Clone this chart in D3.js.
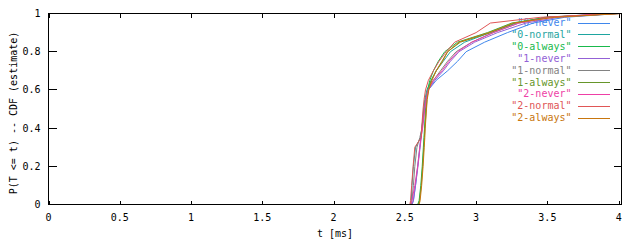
<!DOCTYPE html>
<html><head><meta charset="utf-8">
<script src="https://cdn.jsdelivr.net/npm/d3@7"></script>
<style>
html,body{margin:0;padding:0;background:#fff;}
svg{display:block;}
text{font-family:"DejaVu Sans Mono","Liberation Mono",monospace;font-size:10px;}
</style></head><body>
<script>
// Series names (legend labels) and colours
const seriesNames = ["0-never","0-normal","0-always","1-never","1-normal","1-always","2-never","2-normal","2-always"];
const seriesColors = ["#3f87ec","#1ea5a0","#19b94c","#9361d6","#828282","#66962a","#ee3fa6","#e05656","#c8760e"];
const probLevels = [0, 0.02, 0.1, 0.2, 0.3, 0.35, 0.4, 0.5, 0.55, 0.6, 0.65, 0.7, 0.75, 0.8, 0.85, 0.9, 0.95, 0.98, 1];
const t0never   = [2.55, 2.56, 2.575, 2.59, 2.605, 2.612, 2.62, 2.635, 2.645, 2.665, 2.72, 2.80, 2.87, 2.93, 3.06, 3.22, 3.40, 3.62, 4.00];
const t0normal  = [2.54, 2.545, 2.55, 2.56, 2.575, 2.61, 2.62, 2.632, 2.64, 2.655, 2.685, 2.72, 2.77, 2.82, 2.92, 3.10, 3.28, 3.48, 3.95];
const t0always  = [2.59, 2.60, 2.612, 2.622, 2.63, 2.634, 2.638, 2.645, 2.65, 2.66, 2.675, 2.70, 2.735, 2.78, 2.87, 3.08, 3.25, 3.50, 4.00];
const t1never   = [2.55, 2.56, 2.575, 2.592, 2.607, 2.615, 2.622, 2.638, 2.648, 2.665, 2.71, 2.77, 2.82, 2.88, 2.99, 3.15, 3.35, 3.58, 3.98];
const t1normal  = [2.545, 2.55, 2.56, 2.57, 2.585, 2.605, 2.62, 2.635, 2.645, 2.66, 2.70, 2.75, 2.80, 2.86, 2.97, 3.12, 3.30, 3.52, 4.00];
const t1always  = [2.595, 2.603, 2.615, 2.625, 2.633, 2.637, 2.641, 2.65, 2.655, 2.665, 2.685, 2.72, 2.76, 2.80, 2.89, 3.10, 3.27, 3.50, 3.98];
const t2never   = [2.54, 2.55, 2.57, 2.59, 2.605, 2.613, 2.625, 2.64, 2.65, 2.665, 2.70, 2.76, 2.81, 2.87, 2.97, 3.12, 3.30, 3.52, 3.90];
const t2normal  = [2.535, 2.54, 2.548, 2.558, 2.57, 2.615, 2.618, 2.628, 2.635, 2.645, 2.665, 2.70, 2.74, 2.79, 2.85, 3.00, 3.10, 3.45, 4.02];
const t2always  = [2.60, 2.607, 2.618, 2.628, 2.636, 2.64, 2.643, 2.652, 2.657, 2.668, 2.69, 2.72, 2.765, 2.80, 2.88, 3.09, 3.26, 3.55, 4.02];
const seriesTimes = [t0never, t0normal, t0always, t1never, t1normal, t1always, t2never, t2normal, t2always];
const xTicks = [0, 0.5, 1, 1.5, 2, 2.5, 3, 3.5, 4];
const yTicks = [0, 0.2, 0.4, 0.6, 0.8, 1];
const xLabel = "t [ms]";
const yLabel = "P(T <= t) -- CDF (estimate)";

const W = 640, H = 240;
const svg = d3.select("body").append("svg").attr("width", W).attr("height", H);
const x = d3.scaleLinear().domain([0, 4.02]).range([48.5, 621.5]);
const y = d3.scaleLinear().domain([0, 1]).range([204.5, 13.5]);

const fmt = d => d3.format("~g")(d);

// ticks (inward, mirrored)
const g = svg.append("g").attr("stroke", "#000").attr("stroke-width", 1).attr("shape-rendering", "crispEdges");
xTicks.forEach(v => {
  const px = Math.round(x(v)) + 0.5;
  g.append("line").attr("x1", px).attr("x2", px).attr("y1", y(0)).attr("y2", y(0) - 4);
  g.append("line").attr("x1", px).attr("x2", px).attr("y1", y(1)).attr("y2", y(1) + 4);
});
yTicks.forEach(v => {
  const py = Math.round(y(v) - 0.5) + 0.5;
  g.append("line").attr("x1", x.range()[0]).attr("x2", x.range()[0] + 8).attr("y1", py).attr("y2", py);
  g.append("line").attr("x1", x.range()[1]).attr("x2", x.range()[1] - 8).attr("y1", py).attr("y2", py);
});

// tick labels
svg.append("g").selectAll("text").data(xTicks).join("text")
  .attr("x", d => x(d)).attr("y", 220.5).attr("text-anchor", "middle").attr("fill", "#000")
  .text(fmt);
svg.append("g").selectAll("text").data(yTicks).join("text")
  .attr("x", 40.5).attr("y", d => y(d) + 3.5).attr("text-anchor", "end").attr("fill", "#000")
  .text(fmt);

// axis labels
svg.append("text").attr("x", 335).attr("y", 237).attr("text-anchor", "middle").attr("fill", "#000").text(xLabel);
svg.append("text").attr("transform", "translate(16.5,113) rotate(-90)").attr("text-anchor", "middle").attr("fill", "#000").text(yLabel);

// legend
const leg = svg.append("g");
seriesNames.forEach((name, i) => {
  const ly = 22.5 + i * 11.9;
  leg.append("text").attr("x", 571.5).attr("y", ly + 3.5).attr("text-anchor", "end")
    .attr("fill", seriesColors[i]).text('"' + name + '"');
  leg.append("line").attr("x1", 578).attr("x2", 610).attr("y1", Math.round(ly) + 0.5).attr("y2", Math.round(ly) + 0.5)
    .attr("stroke", seriesColors[i]).attr("stroke-width", 1);
});

// curves
const line = d3.line().x(d => x(d[0])).y(d => y(d[1])).curve(d3.curveLinear);
const curves = svg.append("g").attr("fill", "none").attr("stroke-width", 1);
seriesTimes.forEach((ts, i) => {
  const pts = ts.map((t, k) => [t, probLevels[k]]);
  curves.append("path").attr("d", line(pts)).attr("stroke", seriesColors[i]);
});

// border
svg.append("rect").attr("x", 48.5).attr("y", 13.5).attr("width", 573).attr("height", 191)
  .attr("fill", "none").attr("stroke", "#000").attr("stroke-width", 1).attr("shape-rendering", "crispEdges");
</script>
</body></html>
